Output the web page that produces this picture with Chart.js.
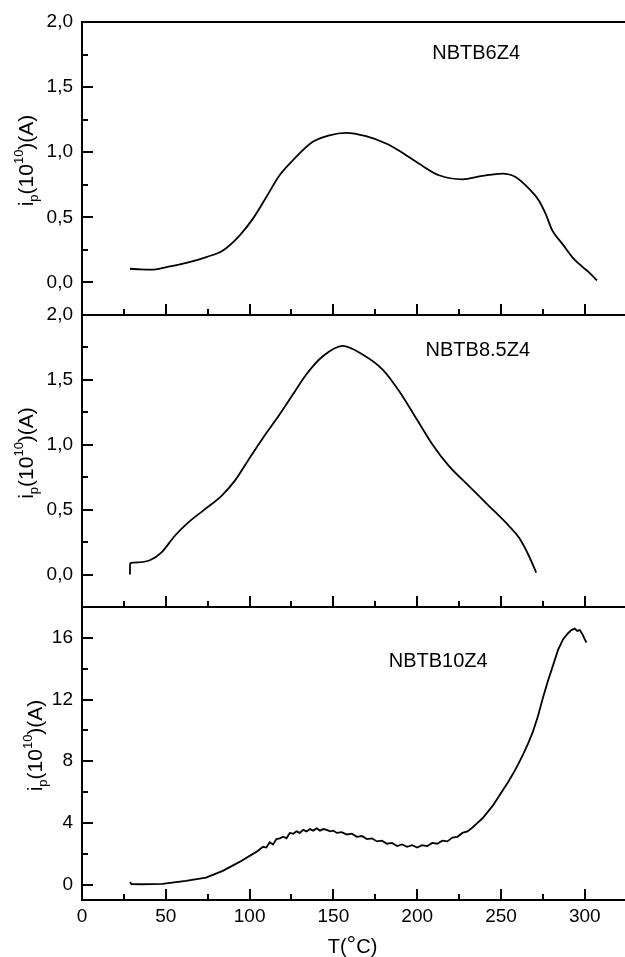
<!DOCTYPE html>
<html>
<head>
<meta charset="utf-8">
<script src="https://cdn.jsdelivr.net/npm/chart.js@4/dist/chart.umd.min.js"></script>
<style>
  html, body { margin: 0; padding: 0; background: #fff; overflow: hidden; }
  #wrap { position: relative; width: 625px; height: 957px; }
  canvas { position: absolute; left: 0; top: 0; }
</style>
</head>
<body>
<div id="wrap">
  <canvas id="c1" width="625" height="957"></canvas>
  <canvas id="c2" width="625" height="957"></canvas>
  <canvas id="c3" width="625" height="957"></canvas>
</div>
<script>
// temperature axis
const xTicks = [0, 50, 100, 150, 200, 250, 300];
const xMin = 0, xMax = 324;

// NBTB6Z4
const t6 = [28.6, 35, 41.5, 50.4, 62.3, 74.2, 84.1, 94, 102, 110, 117.9, 125.8, 137.7, 147.6, 157.5, 169.5, 181.4, 189.3, 201, 213, 227, 238.9, 250.8, 258.7, 266.7, 272.6, 276.6, 280.6, 286.5, 292.5, 296.4, 302.4, 307.3];
const i6 = [0.105, 0.1, 0.098, 0.118, 0.15, 0.195, 0.246, 0.36, 0.49, 0.656, 0.823, 0.938, 1.08, 1.13, 1.149, 1.123, 1.067, 1.012, 0.913, 0.823, 0.792, 0.818, 0.836, 0.81, 0.72, 0.63, 0.528, 0.4, 0.298, 0.195, 0.144, 0.079, 0.015];

// NBTB8.5Z4
const t85 = [28.6, 28.7, 30.6, 40.5, 47.3, 55.3, 63.3, 73.2, 83.1, 91, 98.8, 108.7, 117.9, 125.8, 133.7, 143.7, 155.5, 167.4, 179.4, 189.3, 199.2, 209.1, 219, 230.9, 242.9, 254.8, 260.7, 266.7, 271];
const i85 = [0.0, 0.087, 0.092, 0.11, 0.169, 0.297, 0.4, 0.502, 0.605, 0.72, 0.874, 1.066, 1.233, 1.387, 1.54, 1.682, 1.762, 1.695, 1.579, 1.412, 1.208, 1.002, 0.835, 0.682, 0.528, 0.374, 0.285, 0.143, 0.015];

// NBTB10Z4
const t10 = [28.6, 29.5, 35, 48, 62, 74, 84, 94, 104, 108, 110, 112, 114, 116, 118, 120, 122, 124, 126, 128, 130, 132, 134, 136, 138, 140, 142, 144, 146, 148, 150, 152, 155, 158, 161, 164, 167, 170, 173, 176, 179, 182, 185, 188, 191, 194, 197, 200, 203, 206, 209, 212, 215, 218, 221, 224, 227, 230, 233, 236, 239, 242, 245, 248, 251, 254, 257, 260, 263, 266, 269, 272, 275, 278, 281, 284, 287, 290, 292, 294, 295.5, 297, 298.5, 300, 301];
const i10 = [0.17, 0.03, 0.02, 0.05, 0.24, 0.45, 0.89, 1.47, 2.12, 2.45, 2.4, 2.75, 2.6, 2.95, 3.0, 3.1, 3.0, 3.35, 3.3, 3.45, 3.35, 3.55, 3.45, 3.6, 3.5, 3.65, 3.5, 3.6, 3.55, 3.45, 3.5, 3.35, 3.4, 3.25, 3.3, 3.1, 3.15, 2.95, 3.0, 2.8, 2.85, 2.65, 2.7, 2.5, 2.6, 2.45, 2.55, 2.4, 2.55, 2.5, 2.7, 2.65, 2.85, 2.8, 3.05, 3.1, 3.35, 3.45, 3.7, 4.0, 4.3, 4.7, 5.1, 5.6, 6.1, 6.6, 7.15, 7.75, 8.4, 9.1, 9.9, 10.9, 12.1, 13.2, 14.2, 15.2, 15.9, 16.3, 16.5, 16.6, 16.45, 16.5, 16.25, 15.9, 15.7];

const yTicksSmall = [0, 0.5, 1.0, 1.5, 2.0];
const yMinorSmall = [0.25, 0.75, 1.25, 1.75];
const yTicksBig = [0, 4, 8, 12, 16];
const yMinorBig = [2, 6, 10, 14];

const FONT = '"Liberation Sans", Arial, Helvetica, sans-serif';

function toPoints(xs, ys) {
  return xs.map((x, k) => ({ x: x, y: ys[k] }));
}

// draws a run of text pieces (normal / sub / superscript)
function drawPieces(ctx, pieces, cx, cy, rotate) {
  ctx.save();
  ctx.translate(cx, cy);
  if (rotate) ctx.rotate(-Math.PI / 2);
  let total = 0;
  pieces.forEach(p => {
    ctx.font = p.size + 'px ' + FONT;
    p.w = ctx.measureText(p.text).width;
    total += p.w;
  });
  let x = -total / 2;
  ctx.fillStyle = '#000';
  ctx.textBaseline = 'alphabetic';
  ctx.textAlign = 'left';
  pieces.forEach(p => {
    ctx.font = p.size + 'px ' + FONT;
    ctx.fillText(p.text, x, p.dy);
    x += p.w;
  });
  ctx.restore();
}

const framePlugin = {
  id: 'frame',
  afterDraw(chart, args, opts) {
    const ctx = chart.ctx;
    const a = chart.chartArea;
    const xs = chart.scales.x, ys = chart.scales.y;
    const L = Math.round(a.left), R = Math.round(a.right);
    const T = Math.round(a.top), B = Math.round(a.bottom);
    ctx.save();
    ctx.strokeStyle = '#000';
    ctx.lineWidth = 2;
    ctx.beginPath();
    ctx.moveTo(L, T - 1); ctx.lineTo(L, B + 1);
    ctx.moveTo(L - 1, B); ctx.lineTo(R, B);
    if (opts.topLine) { ctx.moveTo(L - 1, T); ctx.lineTo(R, T); }
    // inward x ticks
    for (let v = 25; v <= xMax; v += 25) {
      const px = Math.round(xs.getPixelForValue(v));
      const len = v % 50 === 0 ? 11 : 6;
      ctx.moveTo(px, B); ctx.lineTo(px, B - len);
    }
    // inward y ticks
    opts.major.forEach(v => {
      const py = Math.round(ys.getPixelForValue(v));
      ctx.moveTo(L, py); ctx.lineTo(L + 11, py);
    });
    opts.minor.forEach(v => {
      const py = Math.round(ys.getPixelForValue(v));
      ctx.moveTo(L, py); ctx.lineTo(L + 6, py);
    });
    ctx.stroke();

    // sample name
    ctx.fillStyle = '#000';
    ctx.font = '20px ' + FONT;
    ctx.textAlign = 'left';
    ctx.textBaseline = 'middle';
    ctx.fillText(opts.name, xs.getPixelForValue(opts.nameAt[0]), ys.getPixelForValue(opts.nameAt[1]));

    // y title i_p(10^10)(A)
    drawPieces(ctx, [
      { text: 'i', size: 21, dy: 0 },
      { text: 'p', size: 13, dy: 5 },
      { text: '(10', size: 21, dy: 0 },
      { text: '10', size: 13, dy: -10 },
      { text: ')(A)', size: 21, dy: 0 }
    ], opts.titleX, (T + B) / 2 - 8, true);

    if (opts.xTitle) {
      drawPieces(ctx, [
        { text: 'T(', size: 20, dy: 0 },
        { text: '°', size: 24, dy: -1 },
        { text: 'C)', size: 20, dy: 0 }
      ], (L + R) / 2 - 1, 953, false);
    }
    ctx.restore();
  }
};

function makePanel(id, xs, ys, cfg) {
  new Chart(document.getElementById(id), {
    type: 'line',
    data: {
      datasets: [{
        data: toPoints(xs, ys),
        borderColor: '#000',
        borderWidth: 1.8,
        pointRadius: 0,
        cubicInterpolationMode: cfg.smooth ? 'monotone' : 'default',
        tension: 0,
        fill: false
      }]
    },
    options: {
      responsive: false,
      animation: false,
      events: [],
      layout: { padding: { top: cfg.top, bottom: cfg.bottom, left: 0, right: 0 } },
      plugins: {
        legend: { display: false },
        tooltip: { enabled: false },
        frame: cfg.frame
      },
      scales: {
        x: {
          type: 'linear',
          min: xMin,
          max: xMax,
          grid: { display: false, drawTicks: false },
          border: { display: false },
          ticks: {
            display: cfg.showX,
            padding: 5,
            color: '#000',
            font: { family: FONT, size: 19 }
          },
          afterBuildTicks: s => { s.ticks = xTicks.map(v => ({ value: v })); },
          afterFit: s => { s.height = cfg.xHeight; }
        },
        y: {
          type: 'linear',
          min: cfg.yMin,
          max: cfg.yMax,
          grid: { display: false, drawTicks: false },
          border: { display: false },
          ticks: {
            padding: 9,
            color: '#000',
            font: { family: FONT, size: 19 },
            callback: cfg.fmt
          },
          afterBuildTicks: s => { s.ticks = cfg.yTicks.map(v => ({ value: v })); },
          afterFit: s => { s.width = 82; }
        }
      }
    },
    plugins: [framePlugin]
  });
}

const commaFmt = v => Number(v).toFixed(1).replace('.', ',');

makePanel('c1', t6, i6, {
  top: 22, bottom: 957 - 315, xHeight: 0, showX: false, smooth: true,
  yMin: -0.25, yMax: 2, yTicks: yTicksSmall, fmt: commaFmt,
  frame: { topLine: true, major: yTicksSmall, minor: yMinorSmall, name: 'NBTB6Z4', nameAt: [209, 1.76], titleX: 33 }
});

makePanel('c2', t85, i85, {
  top: 315, bottom: 957 - 607, xHeight: 0, showX: false, smooth: true,
  yMin: -0.25, yMax: 2, yTicks: yTicksSmall, fmt: commaFmt,
  frame: { topLine: false, major: yTicksSmall, minor: yMinorSmall, name: 'NBTB8.5Z4', nameAt: [205, 1.73], titleX: 33 }
});

makePanel('c3', t10, i10, {
  top: 607, bottom: 0, xHeight: 57, showX: true, smooth: false,
  yMin: -1, yMax: 18, yTicks: yTicksBig, fmt: v => String(v),
  frame: { topLine: false, major: yTicksBig, minor: yMinorBig, name: 'NBTB10Z4', nameAt: [183, 14.45], titleX: 42, xTitle: true }
});
</script>
</body>
</html>
